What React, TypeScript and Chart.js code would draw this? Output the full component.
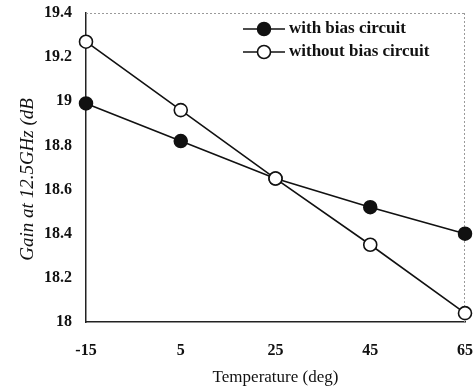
import React, { useEffect, useRef } from "react";
import { Chart, registerables } from "chart.js";

Chart.register(...registerables);

const categories = ["-15", "5", "25", "45", "65"];
const withBias = [18.99, 18.82, 18.65, 18.52, 18.4];
const withoutBias = [19.27, 18.96, 18.65, 18.35, 18.04];
const seriesNames = ["with bias circuit", "without bias circuit"];
const yMin = 18;
const yMax = 19.4;
const yStep = 0.2;
const xTitle = "Temperature (deg)";
const yTitle = "Gain at 12.5GHz (dB";

const FONT = "'Liberation Serif', 'DejaVu Serif', serif";

const framePlugin = {
  id: "frame",
  beforeDatasetsDraw(chart: any) {
    const { ctx, chartArea } = chart;
    ctx.save();
    ctx.strokeStyle = "#9a9a9a";
    ctx.lineWidth = 1;
    ctx.setLineDash([2, 2]);
    ctx.beginPath();
    ctx.moveTo(chartArea.left, chartArea.top + 0.5);
    ctx.lineTo(chartArea.right, chartArea.top + 0.5);
    ctx.moveTo(chartArea.right - 0.5, chartArea.top);
    ctx.lineTo(chartArea.right - 0.5, chartArea.bottom);
    ctx.stroke();
    ctx.restore();
  },
};

const customLegend = {
  id: "customLegend",
  afterDraw(chart: any, _args: any, opts: any) {
    const { ctx } = chart;
    ctx.save();
    chart.data.datasets.forEach((ds: any, i: number) => {
      const y = opts.y0 + i * opts.rowGap;
      ctx.strokeStyle = ds.borderColor;
      ctx.lineWidth = ds.borderWidth;
      ctx.setLineDash([]);
      ctx.beginPath();
      ctx.moveTo(opts.x0, y);
      ctx.lineTo(opts.x0 + opts.lineLen, y);
      ctx.stroke();
      ctx.beginPath();
      ctx.arc(opts.x0 + opts.lineLen / 2, y, ds.pointRadius, 0, Math.PI * 2);
      ctx.fillStyle = ds.pointBackgroundColor;
      ctx.fill();
      ctx.lineWidth = ds.pointBorderWidth;
      ctx.strokeStyle = ds.pointBorderColor;
      ctx.stroke();
      ctx.fillStyle = "#111";
      ctx.font = opts.font;
      ctx.textBaseline = "middle";
      ctx.textAlign = "left";
      ctx.fillText(ds.label, opts.x0 + opts.lineLen + opts.textGap, y);
    });
    ctx.restore();
  },
};

export default function App() {
  const ref = useRef<HTMLCanvasElement | null>(null);
  useEffect(() => {
    if (!ref.current) return;
    const chart = new Chart(ref.current, {
      type: "line",
      data: {
        labels: categories,
        datasets: [
          {
            label: seriesNames[0],
            data: withBias,
            borderColor: "#111",
            borderWidth: 1.6,
            pointRadius: 6.5,
            pointBackgroundColor: "#111",
            pointBorderColor: "#111",
            pointBorderWidth: 1.5,
            order: 1,
            clip: false as any,
          },
          {
            label: seriesNames[1],
            data: withoutBias,
            borderColor: "#111",
            borderWidth: 1.6,
            pointRadius: 6.5,
            pointBackgroundColor: "#fff",
            pointBorderColor: "#111",
            pointBorderWidth: 1.6,
            order: 0,
            clip: false as any,
          },
        ],
      },
      plugins: [framePlugin, customLegend],
      options: {
        responsive: false,
        animation: false,
        layout: { padding: { top: 13, right: 11, left: 0, bottom: 0 } },
        plugins: {
          legend: { display: false },
          tooltip: { enabled: false },
          customLegend: {
            x0: 243,
            lineLen: 42,
            textGap: 4,
            y0: 29,
            rowGap: 23,
            font: `bold 17px ${FONT}`,
          },
        } as any,
        scales: {
          x: {
            type: "category",
            offset: false,
            grid: { display: false, drawTicks: false },
            border: { display: true, color: "#222", width: 1.5 },
            ticks: {
              color: "#111",
              font: { family: FONT, size: 16, weight: "bold" },
              padding: 19,
              maxRotation: 0,
            },
            title: {
              display: true,
              text: xTitle,
              color: "#111",
              font: { family: FONT, size: 17 },
              padding: { top: 0, bottom: 4 },
            },
            afterFit(scale: any) {
              scale.height = 70;
              scale.paddingLeft = 0;
              scale.paddingRight = 0;
            },
          },
          y: {
            min: yMin,
            max: yMax,
            grid: { display: false, drawTicks: false },
            border: { display: true, color: "#222", width: 1.5 },
            ticks: {
              stepSize: yStep,
              color: "#111",
              font: { family: FONT, size: 16, weight: "bold" },
              padding: 14,
              callback: (v: any) => String(+Number(v).toFixed(1)),
            },
            title: {
              display: true,
              text: yTitle + "     ",
              color: "#111",
              font: { family: FONT, size: 19, style: "italic" },
              padding: { top: 17, bottom: 0 },
            },
            afterFit(scale: any) {
              scale.width = 86;
              scale.paddingTop = 0;
              scale.paddingBottom = 0;
            },
          },
        },
      },
    });
    return () => chart.destroy();
  }, []);
  return (
    <div style={{ position: "fixed", left: 0, top: 0, width: 476, height: 392, background: "#fff" }}>
      <canvas ref={ref} width={476} height={392} />
    </div>
  );
}
